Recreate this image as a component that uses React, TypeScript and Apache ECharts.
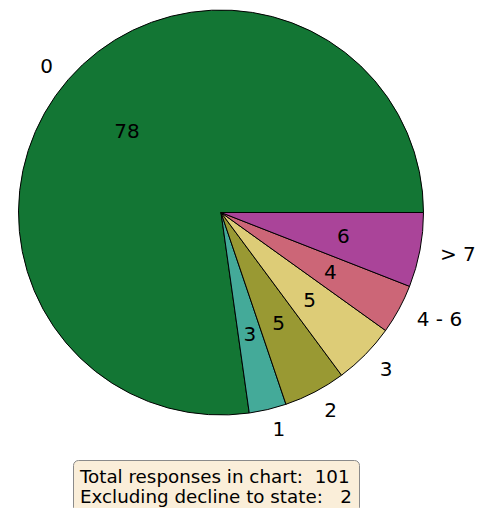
import React, { useEffect, useRef } from "react";
import * as echarts from "echarts";

const categories = ["0", "1", "2", "3", "4 - 6", "> 7"];
const values = [78, 3, 5, 5, 4, 6];
const colors = ["#137634", "#44AA99", "#999933", "#DDCC77", "#CC6677", "#AA4499"];
const totalResponses = 101;
const declined = 2;

export default function App() {
  const ref = useRef<HTMLDivElement>(null);
  useEffect(() => {
    if (!ref.current) return;
    const chart = echarts.init(ref.current, null, { renderer: "svg" });
    const cx = 221;
    const cy = 212.5;
    const r = 202.5;
    const font = "DejaVu Sans";
    const fs = 20;
    const mainData = categories.map((c, i) => ({
      name: c,
      value: values[i],
      itemStyle: { color: colors[i] },
    }));
    const labelData = categories.map((c, i) => ({
      name: c,
      value: values[i],
    }));
    chart.setOption({
      animation: false,
      title: {
        text: `Total responses in chart:  ${totalResponses}\nExcluding decline to state:   ${declined}`,
        left: 73,
        top: 460,
        padding: [6, 8, 6, 7],
        backgroundColor: "#FAEED9",
        borderColor: "#8a8a8a",
        borderWidth: 1,
        borderRadius: 5,
        textStyle: {
          fontFamily: font,
          fontSize: 18.3,
          fontWeight: "normal",
          color: "#000",
          lineHeight: 20.5,
        },
      },
      series: [
        {
          type: "pie",
          center: [cx, cy],
          radius: [0, r],
          startAngle: 0,
          clockwise: false,
          avoidLabelOverlap: false,
          silent: true,
          emphasis: { disabled: true, scale: false },
          itemStyle: { borderColor: "#000", borderWidth: 1 },
          label: {
            show: true,
            position: "outside",
            formatter: "{b}",
            fontFamily: font,
            fontSize: fs,
            color: "#000",
            distanceToLabelLine: 0,
          },
          labelLine: { show: false, length: r * 0.1, length2: 0 },
          data: mainData,
        },
        {
          type: "pie",
          center: [cx, cy],
          radius: [0, r * 1.2],
          startAngle: 0,
          clockwise: false,
          avoidLabelOverlap: false,
          silent: true,
          emphasis: { disabled: true, scale: false },
          itemStyle: { color: "rgba(0,0,0,0)", borderWidth: 0 },
          label: {
            show: true,
            position: "inside",
            formatter: "{c}",
            fontFamily: font,
            fontSize: fs,
            color: "#000",
          },
          labelLine: { show: false },
          data: labelData,
          z: 3,
        },
      ],
    });
    return () => chart.dispose();
  }, []);
  return (
    <div
      ref={ref}
      style={{ position: "fixed", left: 0, top: 0, width: 485, height: 508, background: "#fff" }}
    />
  );
}
